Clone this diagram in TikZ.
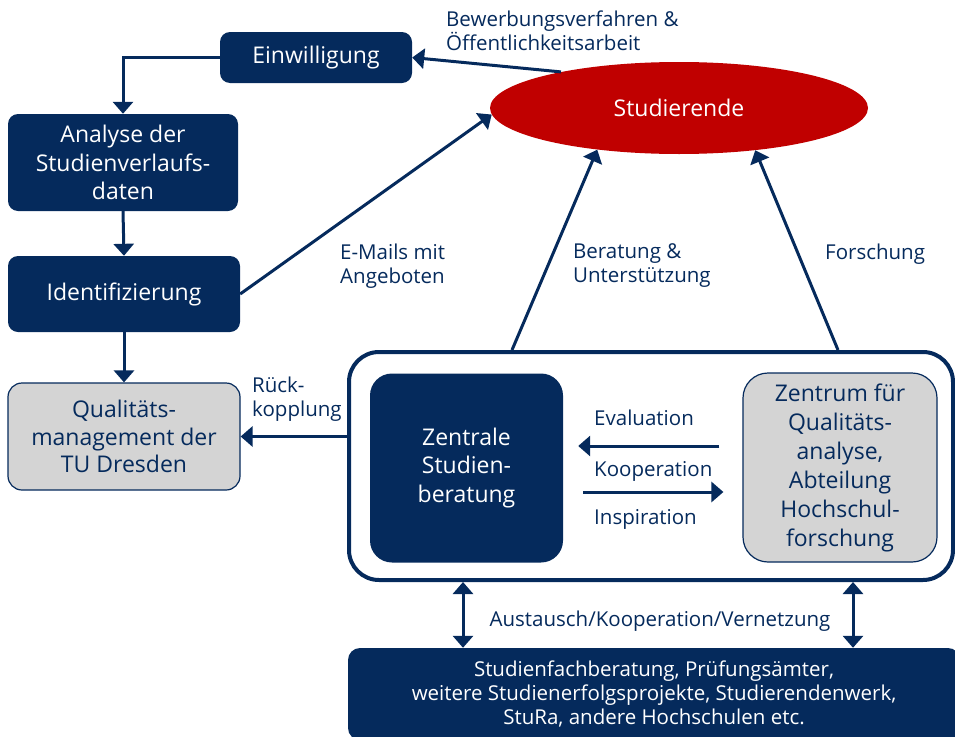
\documentclass[tikz,border=0pt]{standalone}
\usepackage{fontspec}
\setmainfont{Open Sans}
\usetikzlibrary{arrows.meta,shapes.geometric,calc}
\definecolor{navy}{RGB}{5,42,92}
\definecolor{tured}{RGB}{192,0,0}
\definecolor{boxgrey}{RGB}{212,212,212}

\begin{document}
\begin{tikzpicture}[x=1pt,y=-1pt,
  tip/.tip={Triangle[width=20pt,length=12pt]},
  arr/.style={line width=3pt, draw=navy, -tip},
  dblarr/.style={line width=3pt, draw=navy, tip-tip},
  boxtext/.style={font=\fontsize{23}{28.5}\selectfont, align=center, inner sep=0pt},
  darkbox/.style={boxtext, fill=navy, text=white, rounded corners=10pt},
  greybox/.style={boxtext, fill=boxgrey, draw=navy, line width=1.2pt, text=navy, rounded corners=14pt},
  lbl/.style={text=navy, font=\fontsize{20.5}{24}\selectfont, align=left, inner sep=0pt}]

\useasboundingbox (0,0) rectangle (955,736);

% left-hand process chain
\node[darkbox, minimum width=192pt, minimum height=51pt] (einw) at (316,57.5) {Einwilligung};
\node[darkbox, minimum width=230pt, minimum height=97pt] (analyse) at (123,162.5) {Analyse der\\Studienverlaufs-\\daten};
\node[darkbox, minimum width=232pt, minimum height=76pt] (ident) at (124,294) {Identifizierung};
\node[greybox, minimum width=232pt, minimum height=107pt, font=\fontsize{23}{27.5}\selectfont] (qual) at (124,436.5) {Qualitäts-\\management der\\TU Dresden};

% students
\node[ellipse, fill=tured, text=white, font=\fontsize{23}{28}\selectfont, minimum width=378pt, minimum height=92pt, inner sep=0pt] (stud) at (679,108) {Studierende};

% central unit with its two partners
\node[draw=navy, line width=4pt, rounded corners=30pt, minimum width=604pt, minimum height=228pt] (outer) at (651,466) {};
\node[darkbox, rounded corners=22pt, minimum width=193pt, minimum height=189pt] (zsb) at (466.5,468) {Zentrale\\Studien-\\beratung};
\node[greybox, rounded corners=25pt, minimum width=194pt, minimum height=189pt, font=\fontsize{23}{29}\selectfont] (zqa) at (840,467.5) {Zentrum für\\Qualitäts-\\analyse,\\Abteilung\\Hochschul-\\forschung};

% network partners
\node[darkbox, font=\fontsize{20.5}{24}\selectfont, rounded corners=12pt, minimum width=612pt, minimum height=92pt] (netz) at (654,694) {Studienfachberatung, Prüfungsämter,\\weitere Studienerfolgsprojekte, Studierendenwerk,\\StuRa, andere Hochschulen etc.};

% connectors
\draw[arr] (stud.163) -- (einw.east);
\draw[arr] (einw.west) -| (analyse.north);
\draw[arr] (analyse.south) -- (ident.north);
\draw[arr] (ident.south) -- (qual.north);
\draw[arr] (ident.east) -- (stud.182);

\coordinate (b1) at (512,0);
\coordinate (b2) at (838,0);
\draw[arr] (outer.north -| b1) -- (stud.207);
\draw[arr] (outer.north -| b2) -- (stud.331);

\draw[arr] (qual.east -| outer.west) -- (qual.east);

\coordinate (ev) at (0,446);
\coordinate (ko) at (0,492);
\draw[arr, shorten <=23pt, shorten >=15pt] (zqa.west |- ev) -- (zsb.east |- ev);
\draw[arr, shorten <=20pt, shorten >=19pt] (zsb.east |- ko) -- (zqa.west |- ko);

\coordinate (d1) at (463,0);
\coordinate (d2) at (853,0);
\draw[dblarr] (outer.south -| d1) -- (netz.north -| d1);
\draw[dblarr] (outer.south -| d2) -- (netz.north -| d2);

% connector labels
\node[lbl, anchor=west] (l1) at (446,31) {Bewerbungsverfahren \&\\Öffentlichkeitsarbeit};
\node[lbl, anchor=west] (l2) at (340,266) {E-Mails mit\\Angeboten};
\node[lbl, anchor=west] (l3) at (573,266) {Beratung \&\\Unterstützung};
\node[lbl, anchor=west] (l4) at (825,254) {Forschung};
\node[lbl, anchor=west] (l5) at (252,399) {Rück-\\kopplung};
\node[lbl, anchor=west] (l6) at (594,418) {Evaluation};
\node[lbl, anchor=west] (l7) at (594,471) {Kooperation};
\node[lbl, anchor=west] (l8) at (594,519) {Inspiration};
\node[lbl, anchor=center] (l9) at (660,621) {Austausch/Kooperation/Vernetzung};
\end{tikzpicture}
\end{document}
